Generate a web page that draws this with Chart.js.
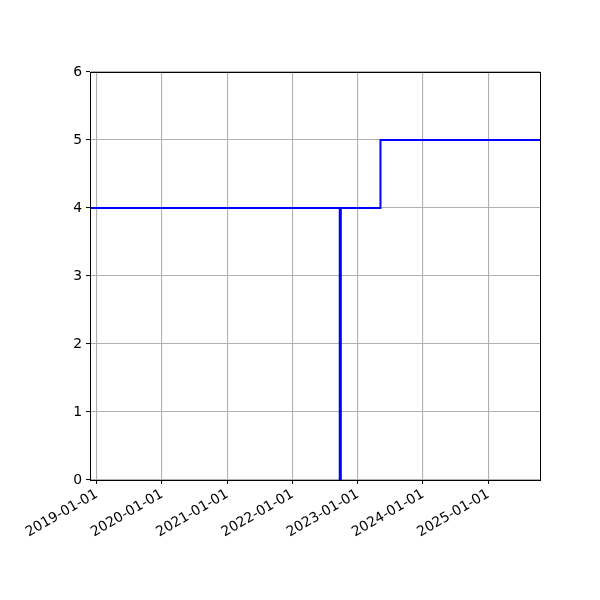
<!DOCTYPE html>
<html>
<head>
<meta charset="utf-8">
<script src="https://cdn.jsdelivr.net/npm/chart.js@4"></script>
<style>
  html, body { margin: 0; padding: 0; background: #fff; }
  #wrap { width: 600px; height: 600px; }
</style>
</head>
<body>
<div id="wrap"><canvas id="c" width="600" height="600"></canvas></div>
<script>
// Data (step series, value held until the next date)
const dates = ['2018-11-24', '2022-09-22', '2022-09-28', '2023-05-08', '2025-10-17'];
const values = [4, 0, 4, 5, 5];
const yearTicks = [2019, 2020, 2021, 2022, 2023, 2024, 2025];
const yTicks = [0, 1, 2, 3, 4, 5, 6];

const toMs = s => Date.parse(s + 'T00:00:00Z');
const points = dates.map((d, i) => ({ x: toMs(d), y: values[i] }));
const pad2 = n => String(n).padStart(2, '0');
const fmt = v => { const d = new Date(v); return d.getUTCFullYear() + '-' + pad2(d.getUTCMonth() + 1) + '-' + pad2(d.getUTCDate()); };

const font = { family: 'DejaVu Sans', size: 13.9 };

const frame = {
  id: 'frame',
  afterDatasetsDraw(chart) {
    const a = chart.chartArea, ctx = chart.ctx;
    ctx.save();
    ctx.strokeStyle = '#000';
    ctx.lineWidth = 1;
    ctx.strokeRect(Math.round(a.left) + 0.5, Math.round(a.top) + 0.5, Math.round(a.right - a.left), Math.round(a.bottom - a.top));
    ctx.restore();
  }
};

new Chart(document.getElementById('c'), {
  type: 'line',
  data: {
    datasets: [{
      data: points,
      borderColor: '#0000ff',
      borderWidth: 2,
      pointRadius: 0,
      stepped: 'before',
      fill: false
    }]
  },
  options: {
    responsive: false,
    animation: false,
    devicePixelRatio: 1,
    layout: { padding: { left: 0, top: 72, right: 60, bottom: 0 } },
    plugins: { legend: { display: false }, tooltip: { enabled: false } },
    scales: {
      x: {
        type: 'linear',
        min: toMs(dates[0]),
        max: toMs(dates[dates.length - 1]),
        afterBuildTicks(scale) {
          scale.ticks = yearTicks.map(y => ({ value: Date.UTC(y, 0, 1) }));
        },
        afterFit(scale) { scale.height = 120; },
        ticks: {
          autoSkip: false,
          minRotation: 30,
          maxRotation: 30,
          color: '#000',
          font: font,
          padding: 2,
          callback: v => fmt(v)
        },
        grid: { color: '#b0b0b0', lineWidth: 1.1, tickColor: '#000', tickLength: 4, tickWidth: 1, drawTicks: true },
        border: { display: true, color: '#000', width: 1 }
      },
      y: {
        type: 'linear',
        min: 0,
        max: 6,
        afterBuildTicks(scale) {
          scale.ticks = yTicks.map(v => ({ value: v }));
        },
        afterFit(scale) { scale.width = 90; },
        ticks: { color: '#000', font: font, padding: 4, callback: v => String(v) },
        grid: { color: '#b0b0b0', lineWidth: 1.1, tickColor: '#000', tickLength: 4, tickWidth: 1 },
        border: { display: true, color: '#000', width: 1 }
      }
    }
  },
  plugins: [frame]
});
</script>
</body>
</html>
